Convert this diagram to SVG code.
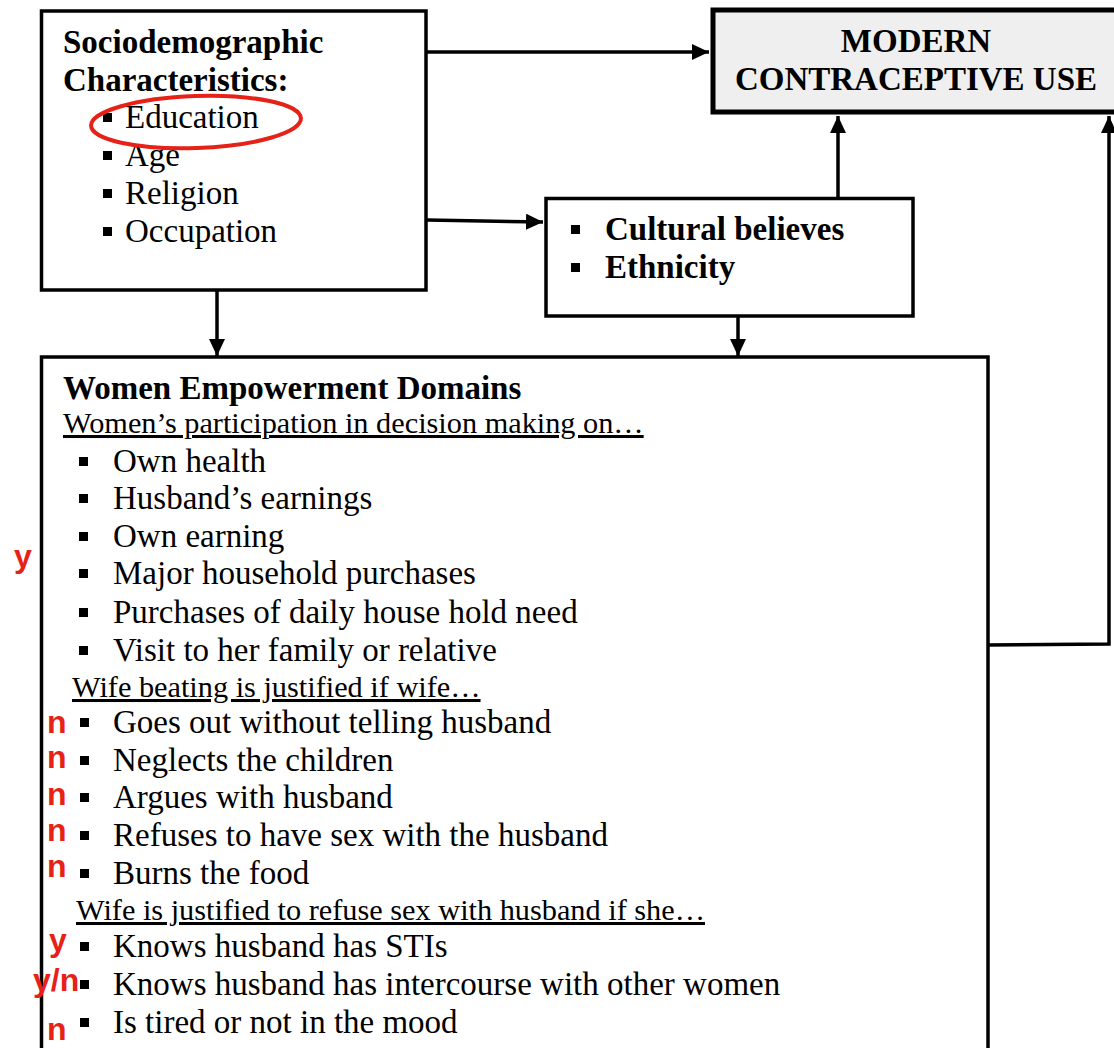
<svg xmlns="http://www.w3.org/2000/svg" width="1114" height="1048" viewBox="0 0 1114 1048">
<style>
.box{fill:#fff;stroke:#000;stroke-width:3.5}
.main{fill:#efefef;stroke:#000;stroke-width:5}
.t{font-family:"Liberation Serif","Times New Roman",serif;font-size:33px;fill:#000}
.b{font-weight:bold}
.s{font-size:30.3px;text-decoration:underline}
.r{font-family:"Liberation Sans",Arial,sans-serif;font-weight:bold;font-size:32px;fill:#e62117}
.conn{fill:none;stroke:#000;stroke-width:3.5}
.bul{fill:#000}
</style>
<defs>
<marker id="ah" markerUnits="userSpaceOnUse" markerWidth="19" markerHeight="17" refX="17" refY="8" orient="auto">
<path d="M0,0 L17,8 L0,16 z" fill="#000"/>
</marker>
</defs>
<rect width="1114" height="1048" fill="#fff"/>

<g id="connectors">
<path class="conn" d="M427,52 L709,52" marker-end="url(#ah)"/>
<path class="conn" d="M427,220 L543,222" marker-end="url(#ah)"/>
<path class="conn" d="M838,198 L838,116" marker-end="url(#ah)"/>
<path class="conn" d="M217,291 L217,356" marker-end="url(#ah)"/>
<path class="conn" d="M738,317 L738,356" marker-end="url(#ah)"/>
<path class="conn" d="M988,645 L1109,644 L1109,116" marker-end="url(#ah)"/>
</g>

<g id="sociodemographic">
<rect class="box" x="41.5" y="11" width="384.5" height="279"/>
<text class="t b" x="63" y="53">Sociodemographic</text>
<text class="t b" x="63" y="91">Characteristics:</text>
<rect class="bul" x="103" y="113" width="9" height="9"/>
<rect class="bul" x="103" y="151" width="9" height="9"/>
<rect class="bul" x="103" y="189" width="9" height="9"/>
<rect class="bul" x="103" y="227" width="9" height="9"/>
<text class="t" x="125" y="128">Education</text>
<text class="t" x="125" y="166">Age</text>
<text class="t" x="125" y="204">Religion</text>
<text class="t" x="125" y="242">Occupation</text>
<ellipse cx="196" cy="122" rx="105" ry="26" transform="rotate(-2 196 122)" fill="none" stroke="#e62117" stroke-width="4"/>
</g>

<g id="modern-contraceptive-use">
<rect class="main" x="713" y="10" width="420" height="102"/>
<text class="t b" x="916" y="52" text-anchor="middle">MODERN</text>
<text class="t b" x="916" y="90" text-anchor="middle">CONTRACEPTIVE USE</text>
</g>

<g id="cultural">
<rect class="box" x="546" y="198.5" width="367" height="117.5"/>
<rect class="bul" x="571" y="225" width="9" height="9"/>
<rect class="bul" x="571" y="263" width="9" height="9"/>
<text class="t b" x="605" y="240">Cultural believes</text>
<text class="t b" x="605" y="278">Ethnicity</text>
</g>

<g id="women-empowerment">
<rect class="box" x="41.5" y="357" width="946.5" height="720"/>
<text class="t b" x="63" y="399">Women Empowerment Domains</text>
<text class="t s" x="63" y="433">Women’s participation in decision making on…</text>
<rect class="bul" x="79" y="457" width="9" height="9"/>
<rect class="bul" x="79" y="494" width="9" height="9"/>
<rect class="bul" x="79" y="532" width="9" height="9"/>
<rect class="bul" x="79" y="569" width="9" height="9"/>
<rect class="bul" x="79" y="608" width="9" height="9"/>
<rect class="bul" x="79" y="646" width="9" height="9"/>
<text class="t" x="113" y="472">Own health</text>
<text class="t" x="113" y="509">Husband’s earnings</text>
<text class="t" x="113" y="547">Own earning</text>
<text class="t" x="113" y="584">Major household purchases</text>
<text class="t" x="113" y="623">Purchases of daily house hold need</text>
<text class="t" x="113" y="661">Visit to her family or relative</text>
<text class="t s" x="72" y="697">Wife beating is justified if wife…</text>
<rect class="bul" x="80" y="718" width="9" height="9"/>
<rect class="bul" x="80" y="756" width="9" height="9"/>
<rect class="bul" x="80" y="793" width="9" height="9"/>
<rect class="bul" x="80" y="831" width="9" height="9"/>
<rect class="bul" x="80" y="869" width="9" height="9"/>
<text class="t" x="113" y="733">Goes out without telling husband</text>
<text class="t" x="113" y="771">Neglects the children</text>
<text class="t" x="113" y="808">Argues with husband</text>
<text class="t" x="113" y="846">Refuses to have sex with the husband</text>
<text class="t" x="113" y="884">Burns the food</text>
<text class="t s" x="76" y="920">Wife is justified to refuse sex with husband if she…</text>
<rect class="bul" x="80" y="942" width="9" height="9"/>
<rect class="bul" x="80" y="980" width="9" height="9"/>
<rect class="bul" x="80" y="1018" width="9" height="9"/>
<text class="t" x="113" y="957">Knows husband has STIs</text>
<text class="t" x="113" y="995">Knows husband has intercourse with other women</text>
<text class="t" x="113" y="1033">Is tired or not in the mood</text>
</g>

<g id="annotations">
<text class="r" x="14" y="567">y</text>
<text class="r" x="47" y="733">n</text>
<text class="r" x="47" y="768">n</text>
<text class="r" x="47" y="805">n</text>
<text class="r" x="47" y="841">n</text>
<text class="r" x="47" y="877">n</text>
<text class="r" x="49" y="951">y</text>
<text class="r" x="33" y="991">y/n</text>
<text class="r" x="47" y="1040">n</text>
</g>
</svg>
